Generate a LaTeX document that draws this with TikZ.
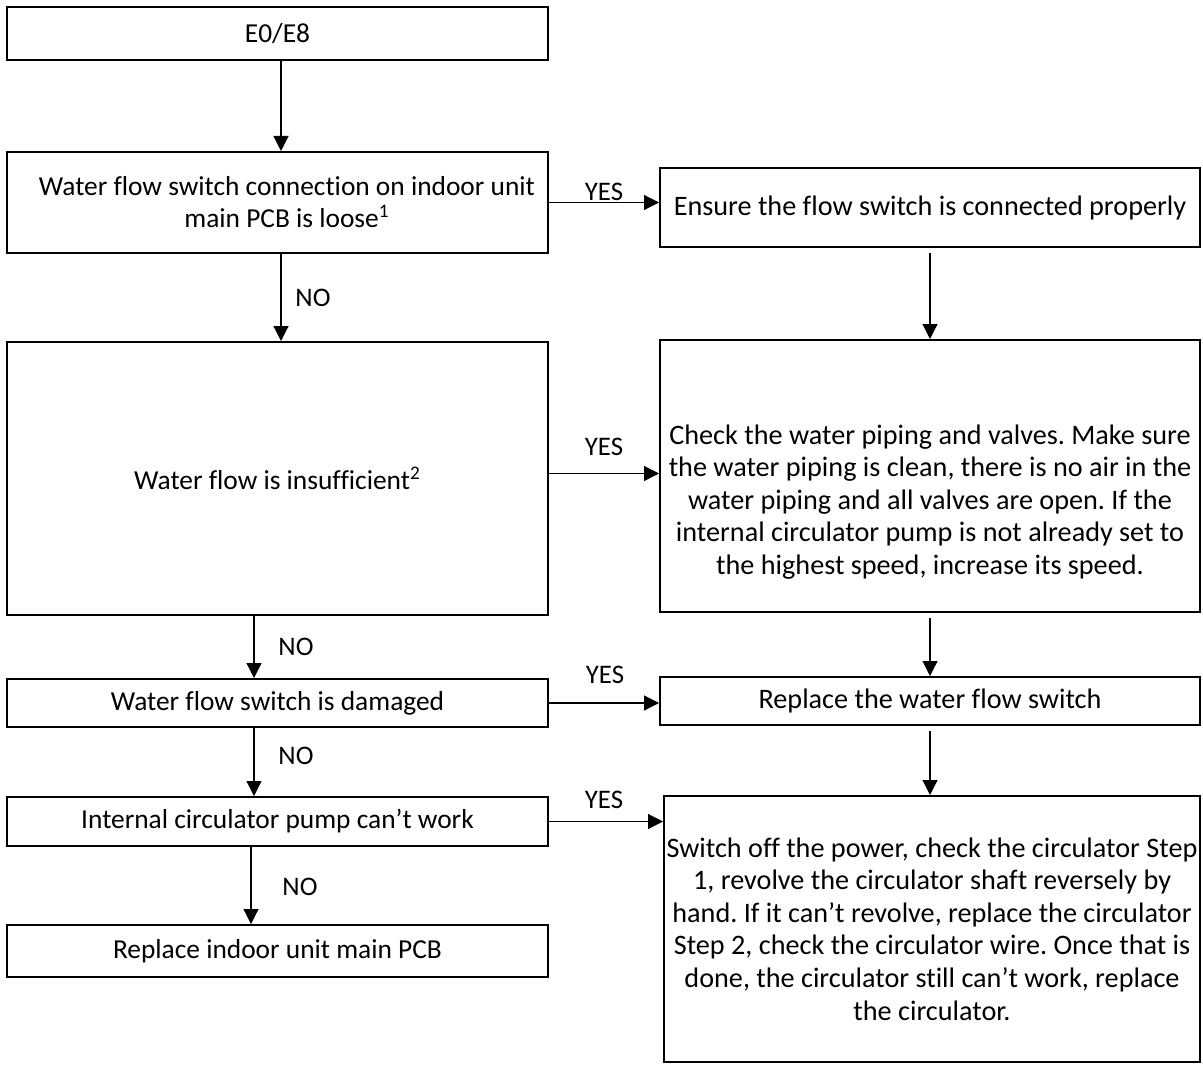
\documentclass[tikz,border=0pt]{standalone}
\usepackage{fontspec}
\setmainfont{Carlito}[Ligatures={NoCommon}]
\usetikzlibrary{arrows.meta}
\frenchspacing

\begin{document}
\begin{tikzpicture}[x=0.5pt,y=-0.5pt,
  every node/.style={font=\fontsize{13.4}{16.2}\selectfont},
  lfont/.style={font=\fontsize{13.7}{16}\selectfont},
  rfont/.style={font=\fontsize{14.1}{16.3}\selectfont},
  box/.style={draw,line width=1pt,inner sep=0pt,align=center},
  leftbox/.style={box,lfont,minimum width=270.5pt},
  rightbox/.style={box,rfont,minimum width=270pt},
  arr/.style={line width=0.6pt,-{Triangle[length=7.5pt,width=7.5pt]}},
  lbl/.style={inner sep=0pt,align=center}]
\useasboundingbox (0,0) rectangle (1203,1064);

\node[leftbox,minimum height=26.5pt] (e0e8) at (277.5,33.5) {E0/E8};
\node[leftbox,minimum height=50.5pt] (loose) at (277.5,202.5) {};
\node[lbl,lfont] (loosetext) at (287,202.5) {Water flow switch connection on indoor unit\\main PCB is loose\textsuperscript{1}};
\node[leftbox,minimum height=136.5pt] (flow) at (277.5,478.5) {Water flow is insufficient\textsuperscript{2}};
\node[leftbox,minimum height=24pt] (damaged) at (277.5,703) {Water flow switch is damaged};
\node[leftbox,minimum height=24.5pt] (pump) at (277.5,821.5) {Internal circulator pump can’t work};
\node[leftbox,minimum height=26pt] (pcb) at (277.5,951) {Replace indoor unit main PCB};

\node[rightbox,minimum height=39.5pt] (ensure) at (930,207.5) {Ensure the flow switch is connected properly};
\node[rightbox,minimum height=136pt] (piping) at (930,476) {};
\node[lbl,rfont] (pipingtext) at (930,502) {Check the water piping and valves. Make sure\\the water piping is clean, there is no air in the\\water piping and all valves are open. If the\\internal circulator pump is not already set to\\the highest speed, increase its speed.};
\node[rightbox,minimum height=24pt] (replace) at (930,701) {Replace the water flow switch};
\node[box,rfont,minimum width=268pt,minimum height=133pt] (circ) at (932,929) {Switch off the power, check the circulator Step\\1, revolve the circulator shaft reversely by\\hand. If it can’t revolve, replace the circulator\\Step 2, check the circulator wire. Once that is\\done, the circulator still can’t work, replace\\the circulator.};

\draw[arr] ([xshift=1.75pt]e0e8.south) -- ([xshift=1.75pt]loose.north);
\draw[arr] ([xshift=1.75pt]loose.south) -- ([xshift=1.75pt]flow.north);
\draw[arr] ([xshift=-11.75pt]flow.south) -- ([xshift=-11.75pt]damaged.north);
\draw[arr] ([xshift=-11.75pt]damaged.south) -- ([xshift=-11.75pt]pump.north);
\draw[arr] ([xshift=-13.25pt]pump.south) -- ([xshift=-13.25pt]pcb.north);

\draw[arr] (loose.east) -- (loose.east -| ensure.west);
\draw[arr] ([yshift=2.5pt]flow.east) -- ([yshift=2.5pt]flow.east -| piping.west);
\draw[arr] (damaged.east) -- (damaged.east -| replace.west);
\draw[arr] (pump.east) -- (pump.east -| circ.west);

\draw[arr,shorten <=2.5pt] (ensure.south) -- (piping.north);
\draw[arr,shorten <=2.5pt] (piping.south) -- (replace.north);
\draw[arr,shorten <=2.5pt] (replace.south) -- (replace.south |- circ.north);

\node[lbl] (no1) at (313,298) {NO};
\node[lbl] (no2) at (296,647) {NO};
\node[lbl] (no3) at (296,756) {NO};
\node[lbl] (no4) at (300,887) {NO};
\node[lbl] (yes1) at (604,192) {YES};
\node[lbl] (yes2) at (604,447) {YES};
\node[lbl] (yes3) at (605,675) {YES};
\node[lbl] (yes4) at (604,800) {YES};
\end{tikzpicture}
\end{document}
